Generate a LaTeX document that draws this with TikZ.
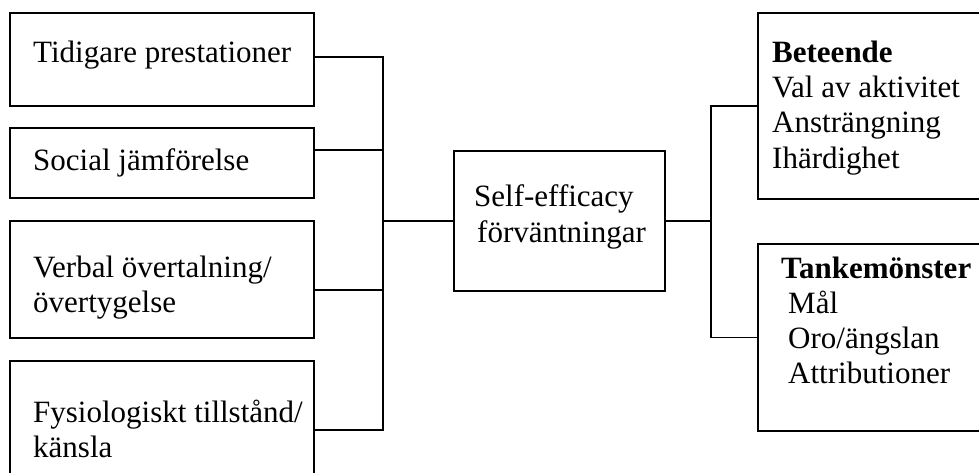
\documentclass[tikz,border=0pt]{standalone}
\usepackage{fontspec}
\setmainfont{Liberation Serif}
\begin{document}
\begin{tikzpicture}[x=1pt,y=-1pt,
  box/.style={draw, line width=1.6pt, inner sep=0pt, anchor=north west},
  txt/.style={anchor=base west, inner sep=0pt, font=\fontsize{31}{35}\selectfont},
  btxt/.style={txt, font=\fontsize{31}{35}\selectfont\bfseries},
  wire/.style={line width=1.6pt}]
\useasboundingbox (0,0) rectangle (979,473);
\clip (0,0) rectangle (979,473);
% boxes
\node[box, minimum width=304pt, minimum height=93pt] (b1) at (9,12) {};
\node[box, minimum width=304pt, minimum height=70pt] (b2) at (9,127) {};
\node[box, minimum width=304pt, minimum height=117pt] (b3) at (9,220) {};
\node[box, minimum width=304pt, minimum height=150pt] (b4) at (9,360) {};
\node[box, minimum width=211pt, minimum height=140pt] (c) at (453,150) {};
\node[box, minimum width=250pt, minimum height=186pt] (r1) at (757,12) {};
\node[box, minimum width=250pt, minimum height=187pt] (r2) at (757,243) {};
% texts
\node[txt] (t1) at (33,63) {Tidigare prestationer};
\node[txt] (t2) at (33,171) {Social jämförelse};
\node[txt] (t3a) at (33,277) {Verbal övertalning/};
\node[txt] (t3b) at (33,312) {övertygelse};
\node[txt] (t4a) at (33,422) {Fysiologiskt tillstånd/};
\node[txt] (t4b) at (33,457) {känsla};
\node[txt] (ca) at (474,207) {Self-efficacy};
\node[txt] (cb) at (477,242) {förväntningar};
\node[btxt] (r1a) at (772,63) {Beteende};
\node[txt] (r1b) at (772,98) {Val av aktivitet};
\node[txt] (r1c) at (772,133) {Ansträngning};
\node[txt] (r1d) at (772,168) {Ihärdighet};
\node[btxt] (r2a) at (781,278) {Tankemönster};
\node[txt] (r2b) at (788,313) {Mål};
\node[txt] (r2c) at (788,348) {Oro/ängslan};
\node[txt] (r2d) at (788,383) {Attributioner};
% connectors
\coordinate (bus) at (383,0);
\coordinate (rbus) at (711,0);
\coordinate (p1) at ([yshift=-45pt]b1.north east);
\coordinate (p2) at ([yshift=-23pt]b2.north east);
\coordinate (p3) at ([yshift=-70pt]b3.north east);
\coordinate (p4) at ([yshift=-70pt]b4.north east);
\draw[wire] (p1) -- (p1 -| bus) -- (p4 -| bus) -- (p4);
\draw[wire] (p2) -- (p2 -| bus);
\draw[wire] (p3) -- (p3 -| bus);
\draw[wire] (c.west) -- (c.west -| bus);
\draw[wire] (c.east) -- (c.east -| rbus);
\draw[wire] (r1.west) -- (r1.west -| rbus) -- (r2.west -| rbus) -- (r2.west);
\end{tikzpicture}
\end{document}
